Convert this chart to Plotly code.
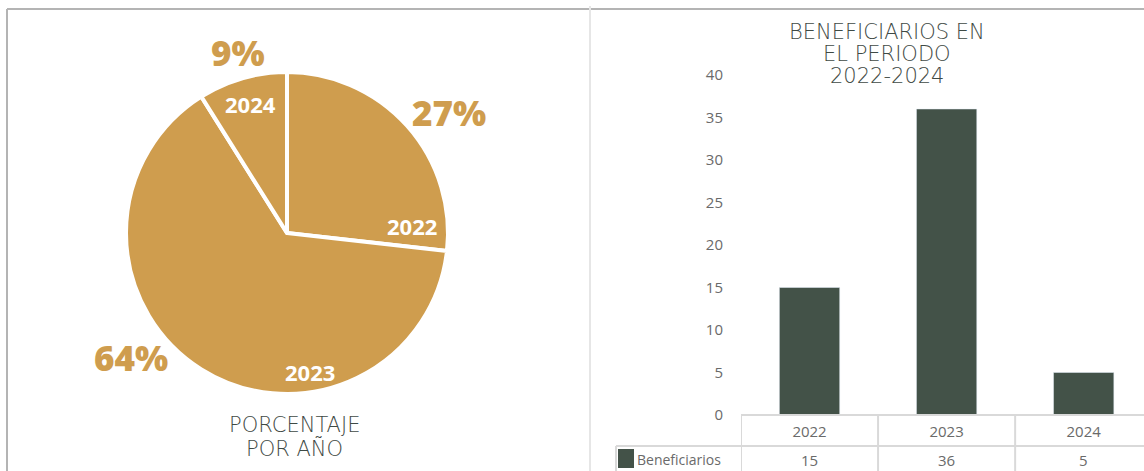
import plotly.graph_objects as go

# ---- data ----
years = ["2022", "2023", "2024"]
beneficiarios = [15, 36, 5]
series_name = "Beneficiarios"
y_ticks = [0, 5, 10, 15, 20, 25, 30, 35, 40]
pie_title_lines = ["PORCENTAJE", "POR AÑO"]
bar_title_lines = ["BENEFICIARIOS EN", "EL PERIODO", "2022-2024"]

GOLD = "#CF9D4E"
BAR = "#435248"
TXT = "#3F4A45"
TICK = "#6A6A6A"
GRID = "#D9D9D9"
TITLE_FONT = "DejaVu Sans"

W, H = 1144, 471
MT, MB = 60, 56
PH = H - MT - MB


def py(pix):
    """pixel row -> paper y"""
    return (H - MB - pix) / PH


def px(pix):
    return pix / W


fig = go.Figure()

# pie
fig.add_trace(go.Pie(
    labels=years, values=beneficiarios, sort=False, direction="clockwise", rotation=0,
    marker=dict(colors=[GOLD] * len(years), line=dict(color="white", width=4)),
    textinfo="none",
    domain=dict(x=[px(126), px(448)], y=[py(394), py(72)]),
    showlegend=False, hoverinfo="label+percent",
))

# bars
fig.add_trace(go.Bar(
    x=years, y=beneficiarios, marker=dict(color=BAR), name=series_name,
    showlegend=False, xaxis="x", yaxis="y",
))

fig.update_layout(
    width=W, height=H,
    margin=dict(l=0, r=0, t=MT, b=MB),
    paper_bgcolor="white", plot_bgcolor="white",
    bargap=0.56,
    xaxis=dict(type="category", domain=[px(741), 1], range=[-0.5, 2.44], showgrid=False,
               zeroline=False, showline=False, ticks="",
               tickfont=dict(family="Open Sans", size=15, color=TICK),
               ticklabelstandoff=6, fixedrange=True),
    yaxis=dict(domain=[0, py(75)], range=[0, 40], tickvals=y_ticks, showgrid=False,
               zeroline=False, showline=False, ticks="",
               tickfont=dict(family="Open Sans", size=15, color=TICK),
               ticklabelstandoff=17, fixedrange=True),
)

shapes = []
# panel borders
shapes.append(dict(type="line", xref="paper", yref="paper", x0=px(7), x1=1, y0=py(9), y1=py(9),
                   line=dict(color="#B4B4B4", width=2)))
shapes.append(dict(type="line", xref="paper", yref="paper", x0=px(7), x1=px(7), y0=py(9), y1=py(471),
                   line=dict(color="#B4B4B4", width=2)))
shapes.append(dict(type="line", xref="paper", yref="paper", x0=px(590), x1=px(590), y0=py(6), y1=py(471),
                   line=dict(color="#E6E6E6", width=2)))

# data table grid
n = len(years)
shapes.append(dict(type="line", xref="x", yref="paper", x0=-0.5, x1=n - 0.5, y0=0, y1=0,
                   line=dict(color=GRID, width=2)))
shapes.append(dict(type="line", xref="paper", yref="paper", x0=px(616), x1=1, y0=py(446), y1=py(446),
                   line=dict(color=GRID, width=2)))
shapes.append(dict(type="line", xref="paper", yref="paper", x0=px(616), x1=px(616), y0=py(446), y1=py(471),
                   line=dict(color=GRID, width=2)))
for i in range(n):
    shapes.append(dict(type="line", xref="x", yref="paper", x0=i - 0.5, x1=i - 0.5,
                       y0=0, y1=py(471), line=dict(color=GRID, width=2)))
# legend key
shapes.append(dict(type="rect", xref="paper", yref="paper", x0=px(618), x1=px(634),
                   y0=py(468), y1=py(449), fillcolor=BAR, line=dict(width=0)))
fig.update_layout(shapes=shapes)

ann = []
# pie labels (positions chosen to match the reference layout)
total = sum(beneficiarios)
pct_pos = [(449, 112), (131, 357), (238, 52)]
year_pos = [(412, 226), (310, 372), (250, 104)]
for yr, v, (pxx, pyy), (yx, yy) in zip(years, beneficiarios, pct_pos, year_pos):
    ann.append(dict(text=f"{round(v / total * 100)}%", xref="paper", yref="paper",
                    x=px(pxx), y=py(pyy), showarrow=False, xanchor="center", yanchor="middle",
                    font=dict(family="Open Sans", size=35, color=GOLD, weight=800)))
    ann.append(dict(text=yr, xref="paper", yref="paper",
                    x=px(yx), y=py(yy), showarrow=False, xanchor="center", yanchor="middle",
                    font=dict(family="Open Sans", size=22, color="white", weight=700)))

for k, line in enumerate(pie_title_lines):
    ann.append(dict(text=line, xref="paper", yref="paper", x=px(294), y=py(425 + 23 * k),
                    showarrow=False, xanchor="center", yanchor="middle",
                    font=dict(family=TITLE_FONT, size=21, color=TXT, weight=200)))
for k, line in enumerate(bar_title_lines):
    ann.append(dict(text=line, xref="paper", yref="paper", x=px(887), y=py(32 + 22 * k),
                    showarrow=False, xanchor="center", yanchor="middle",
                    font=dict(family=TITLE_FONT, size=21, color=TXT, weight=200)))

ann.append(dict(text=series_name, xref="paper", yref="paper", x=px(635), y=py(459),
                showarrow=False, xanchor="left", yanchor="middle",
                font=dict(family="Open Sans", size=14, color=TICK)))
for i, v in enumerate(beneficiarios):
    ann.append(dict(text=str(v), xref="x", yref="paper", x=i, y=py(460),
                    showarrow=False, xanchor="center", yanchor="middle",
                    font=dict(family="Open Sans", size=15, color=TICK)))
fig.update_layout(annotations=ann)

fig.write_html("out.html", config={"displayModeBar": False},
               post_script="document.body.style.margin='0';")
